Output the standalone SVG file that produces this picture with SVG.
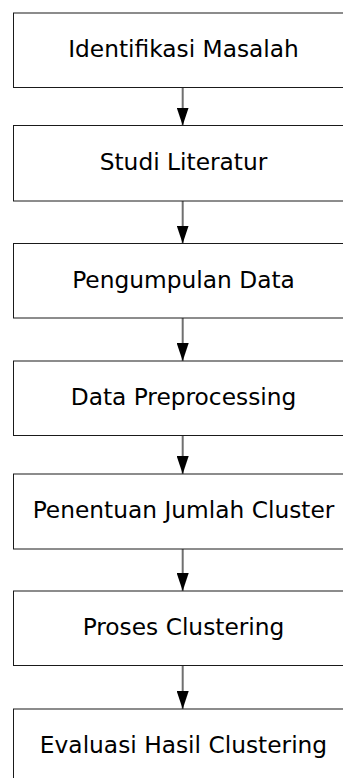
<svg xmlns="http://www.w3.org/2000/svg" width="343" height="778" viewBox="0 0 343 778">
<style>
.box{fill:#ffffff;stroke:#1a1a1a;stroke-width:1}
.lbl{font-family:"DejaVu Sans","Verdana",sans-serif;font-size:23.3px;fill:#000000;text-anchor:middle}
.conn{stroke:#707070;stroke-width:2;fill:none}
</style>
<defs>
<marker id="arr" markerUnits="userSpaceOnUse" markerWidth="18" markerHeight="12" viewBox="0 0 18 12" refX="18" refY="6" orient="auto">
<path d="M0,0 L18,6 L0,12 Z" fill="#000000"/>
</marker>
</defs>
<rect width="343" height="778" fill="#ffffff"/>
<g id="connectors">
<line class="conn" x1="182.7" y1="87.5" x2="182.7" y2="125.5" marker-end="url(#arr)"/>
<line class="conn" x1="182.7" y1="201" x2="182.7" y2="243.5" marker-end="url(#arr)"/>
<line class="conn" x1="182.7" y1="318" x2="182.7" y2="361" marker-end="url(#arr)"/>
<line class="conn" x1="182.7" y1="435.5" x2="182.7" y2="474" marker-end="url(#arr)"/>
<line class="conn" x1="182.7" y1="549" x2="182.7" y2="591" marker-end="url(#arr)"/>
<line class="conn" x1="182.7" y1="665.5" x2="182.7" y2="709" marker-end="url(#arr)"/>
</g>
<g id="n1"><rect class="box" x="13.5" y="13" width="340" height="74.5"/><text class="lbl" x="183.5" y="57">Identifikasi Masalah</text></g>
<g id="n2"><rect class="box" x="13.5" y="125.5" width="340" height="75.5"/><text class="lbl" x="183.5" y="169.5">Studi Literatur</text></g>
<g id="n3"><rect class="box" x="13.5" y="243.5" width="340" height="74.5"/><text class="lbl" x="183.5" y="287.5">Pengumpulan Data</text></g>
<g id="n4"><rect class="box" x="13.5" y="361" width="340" height="74.5"/><text class="lbl" x="183.5" y="405">Data Preprocessing</text></g>
<g id="n5"><rect class="box" x="13.5" y="474" width="340" height="75"/><text class="lbl" x="183.5" y="518">Penentuan Jumlah Cluster</text></g>
<g id="n6"><rect class="box" x="13.5" y="591" width="340" height="74.5"/><text class="lbl" x="183.5" y="635">Proses Clustering</text></g>
<g id="n7"><rect class="box" x="13.5" y="709" width="340" height="75"/><text class="lbl" x="183.5" y="753">Evaluasi Hasil Clustering</text></g>
</svg>
